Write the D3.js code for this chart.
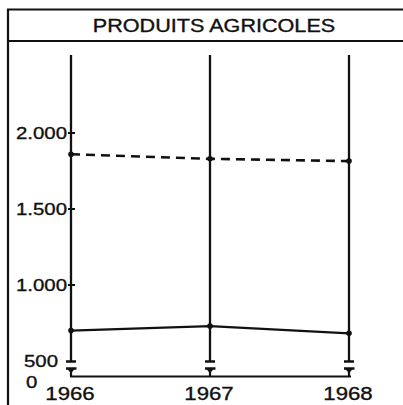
<!DOCTYPE html>
<html>
<head>
<meta charset="utf-8">
<script src="https://cdn.jsdelivr.net/npm/d3@7/dist/d3.min.js"></script>
<style>
  html, body { margin: 0; padding: 0; background: #fff; }
  svg { display: block; }
  text { font-family: "Liberation Sans", Arial, sans-serif; fill: #111; stroke: #111; stroke-width: 0.35px; }
</style>
</head>
<body>
<div id="chart"></div>
<script>
// ---------- données ----------
const years = ["1966", "1967", "1968"];
const dashedValues = [1860, 1830, 1815];   // série en tirets
const solidValues = [700, 730, 682];       // série en trait plein
const yTicks = [2000, 1500, 1000, 500];
const yTickLabels = ["2.000", "1.500", "1.000", "500"];
const title = "PRODUITS AGRICOLES";

const W = 403, H = 405;
const ink = "#111";
const stretch = 1.2; // le scan est élargi horizontalement

const svg = d3.select("#chart").append("svg")
  .attr("width", W).attr("height", H);

// texte élargi : position (px, py), puis étirement horizontal
const label = (sel, px, py, str, size, anchor) => sel.append("text")
  .attr("transform", `translate(${px},${py}) scale(${stretch},1)`)
  .attr("text-anchor", anchor || "start")
  .attr("font-size", size)
  .text(str);

// Cadre + bandeau titre
svg.append("line").attr("x1", 8).attr("x2", 8).attr("y1", 9).attr("y2", H)
  .attr("stroke", ink).attr("stroke-width", 2.2);
svg.append("line").attr("x1", 7).attr("x2", W).attr("y1", 9.5).attr("y2", 9.5)
  .attr("stroke", ink).attr("stroke-width", 2.2);
svg.append("line").attr("x1", 7).attr("x2", W).attr("y1", 41).attr("y2", 41)
  .attr("stroke", ink).attr("stroke-width", 2.2);
label(svg, 214, 31.5, title, 18, "middle");

// Échelles
const x = d3.scalePoint().domain(years).range([71, 349]);
const y = d3.scaleLinear().domain([500, 2000]).range([361, 133]);
const yTop = 55;       // haut des verticales
const yZero = 376.5;   // ligne du zéro (axe coupé)

// Verticales par année
svg.append("g").selectAll("line")
  .data(years).enter().append("line")
  .attr("x1", d => x(d)).attr("x2", d => x(d))
  .attr("y1", yTop).attr("y2", y(500))
  .attr("stroke", ink).attr("stroke-width", 2.3);

// Coupures d'axe
const brk = svg.append("g").attr("stroke", ink).attr("fill", ink);
years.forEach(d => {
  const cx = x(d);
  brk.append("line").attr("x1", cx - 5).attr("x2", cx + 5)
    .attr("y1", y(500) + 0.5).attr("y2", y(500) + 0.5).attr("stroke-width", 2.5);
  brk.append("line").attr("x1", cx - 5).attr("x2", cx + 5.5)
    .attr("y1", 368.5).attr("y2", 368.5).attr("stroke-width", 2.5);
  brk.append("path").attr("stroke", "none")
    .attr("d", `M${cx - 3.5},369 L${cx + 3.5},369 L${cx},373.5 Z`);
  brk.append("line").attr("x1", cx).attr("x2", cx)
    .attr("y1", 368).attr("y2", yZero).attr("stroke-width", 2.2);
});
svg.append("line")
  .attr("x1", x(years[0]) - 1).attr("x2", x(years[2]) + 2)
  .attr("y1", yZero).attr("y2", yZero)
  .attr("stroke", ink).attr("stroke-width", 2.2);

// Graduations de l'axe vertical
const axisX = x(years[0]);
const ticks = svg.append("g");
yTicks.forEach((v, i) => {
  if (v !== 500) {
    ticks.append("line").attr("x1", axisX - 3).attr("x2", axisX + 4)
      .attr("y1", y(v)).attr("y2", y(v))
      .attr("stroke", ink).attr("stroke-width", 2);
  }
  label(ticks, v === 500 ? axisX - 13 : axisX - 4, y(v) + 6, yTickLabels[i], 17, "end");
});
label(svg, 26, 388, "0", 17);

// Années
years.forEach(d => label(svg, x(d) - 1, 400, d, 18.5, "middle"));

// Courbes
const line = d3.line().x((d, i) => x(years[i])).y(d => y(d));

svg.append("path")
  .datum(dashedValues)
  .attr("fill", "none").attr("stroke", ink)
  .attr("stroke-width", 2.6).attr("stroke-dasharray", "9,6")
  .attr("d", line);

svg.append("path")
  .datum(solidValues)
  .attr("fill", "none").attr("stroke", ink)
  .attr("stroke-width", 2.2)
  .attr("d", line);

// Points
[dashedValues, solidValues].forEach(vals => {
  svg.append("g").attr("fill", ink)
    .selectAll("circle")
    .data(vals).enter().append("circle")
    .attr("cx", (d, i) => x(years[i]))
    .attr("cy", d => y(d))
    .attr("r", 2.8);
});
</script>
</body>
</html>
